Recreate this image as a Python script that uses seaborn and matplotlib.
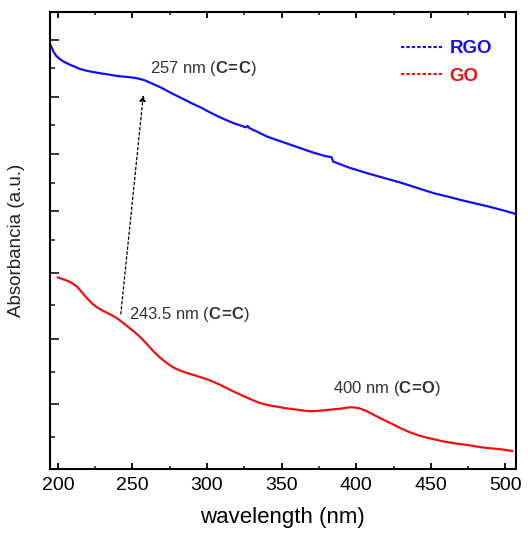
import numpy as np
import pandas as pd
import matplotlib
matplotlib.use('Agg')
import matplotlib.pyplot as plt
import seaborn as sns
from matplotlib.lines import Line2D
from matplotlib.ticker import FixedLocator, MultipleLocator

# datos (absorbancia en unidades arbitrarias)
rgo_nm = [194.5, 196, 197.2, 199, 201.7, 204, 206.2, 208.5, 211.5, 214, 217.3, 220, 222.9, 228.5,
          234, 239.7, 245.3, 250.9, 254, 257.6, 260, 263, 268.8, 276.6, 284.4, 290, 295.6, 301.2,
          306.8, 312.4, 318, 322.5, 326, 327.2, 328.5, 334, 340.4, 351.6, 362.8, 371, 379.5, 383.6,
          384.4, 395, 407.5, 418.7, 429.9, 441, 452.2, 461, 470.1, 480, 490, 500, 507]
rgo_abs = [4.257, 4.21, 4.17, 4.13, 4.095, 4.073, 4.057, 4.04, 4.022, 4.005, 3.99, 3.98, 3.972, 3.957,
           3.945, 3.93, 3.922, 3.913, 3.904, 3.89, 3.876, 3.855, 3.817, 3.755, 3.697, 3.655, 3.617, 3.572,
           3.53, 3.492, 3.457, 3.435, 3.416, 3.43, 3.408, 3.37, 3.323, 3.265, 3.207, 3.165, 3.128, 3.118,
           3.075, 3.015, 2.957, 2.91, 2.863, 2.81, 2.757, 2.725, 2.69, 2.655, 2.62, 2.58, 2.55]

go_nm = [199.9, 203, 206.2, 209.5, 212.9, 216, 219.6, 223, 226.3, 229.5, 233, 236.5, 239.7, 243,
         246.4, 251, 255.4, 260, 264.3, 268.8, 273.3, 277.5, 282.2, 286.5, 291.1, 295.5, 300.1,
         304.5, 309.1, 313.5, 318, 322.5, 327, 331.5, 336, 341.5, 347.1, 352.5, 358.3, 364, 369.5,
         375, 380.7, 385, 389.6, 393, 396.3, 399.5, 403, 407.5, 412, 416.5, 421, 425.5, 429.9,
         435.5, 441.1, 446.5, 452.2, 457.5, 463.4, 469, 474.6, 480, 485.8, 491.5, 497, 504.8]
go_abs = [1.917, 1.90, 1.883, 1.86, 1.823, 1.77, 1.707, 1.655, 1.617, 1.588, 1.563, 1.535, 1.507,
          1.47, 1.43, 1.375, 1.317, 1.245, 1.173, 1.11, 1.057, 1.015, 0.983, 0.96, 0.94, 0.918, 0.897,
          0.87, 0.84, 0.806, 0.773, 0.742, 0.713, 0.683, 0.657, 0.637, 0.623, 0.608, 0.597, 0.585,
          0.577, 0.582, 0.59, 0.597, 0.603, 0.612, 0.617, 0.614, 0.603, 0.575, 0.54, 0.505, 0.473,
          0.44, 0.407, 0.37, 0.34, 0.316, 0.297, 0.278, 0.263, 0.25, 0.24, 0.226, 0.213, 0.205,
          0.197, 0.18]

y_major = [0.65, 1.30, 1.96, 2.58, 3.15, 3.72, 4.29]
y_minor = [0.32, 0.97, 1.64, 2.29, 2.86, 3.44, 4.01]

df_rgo = pd.DataFrame({'nm': rgo_nm, 'abs': rgo_abs})
df_go = pd.DataFrame({'nm': go_nm, 'abs': go_abs})

sns.set_style('ticks')
plt.rcParams['font.family'] = ['Liberation Sans', 'DejaVu Sans']
plt.rcParams['mathtext.fontset'] = 'custom'
plt.rcParams['mathtext.bf'] = 'Liberation Sans:bold'
plt.rcParams['mathtext.rm'] = 'Liberation Sans'

fig = plt.figure(figsize=(5.28, 5.35), dpi=100)
ax = fig.add_axes([0.094, 0.1234, 0.883, 0.8542])

sns.lineplot(data=df_rgo, x='nm', y='abs', ax=ax, color='#1010f0', lw=1.6, sort=False)
sns.lineplot(data=df_go, x='nm', y='abs', ax=ax, color='#f01010', lw=1.6, sort=False)

ax.set_xlim(194.5, 507)
ax.set_ylim(0, 4.57)
ax.xaxis.set_major_locator(MultipleLocator(50))
ax.xaxis.set_minor_locator(MultipleLocator(25))
ax.yaxis.set_major_locator(FixedLocator(y_major))
ax.yaxis.set_minor_locator(FixedLocator(y_minor))
ax.set_yticklabels([])

for s in ax.spines.values():
    s.set_linewidth(1.5)
    s.set_color('black')
    s.set_visible(True)

ax.tick_params(axis='x', which='major', direction='in', length=4.5, width=1.3, top=True,
               labelsize=14, pad=6, colors='black')
ax.tick_params(axis='x', which='minor', direction='in', length=2.5, width=1.2, top=True)
ax.tick_params(axis='y', which='major', direction='in', length=6.5, width=1.3, right=False)
ax.tick_params(axis='y', which='minor', direction='in', length=3.5, width=1.2, right=False)

ax.set_xlabel('wavelength (nm)', fontsize=16, labelpad=9, color='black')
ax.set_ylabel('Absorbancia (a.u.)', fontsize=13.5, labelpad=14, color='#222222')

# anotaciones
ax.text(261.8, 4.0, r'257 nm ($\mathbf{C\!=\!C}$)', fontsize=12, color='#333333', ha='left', va='center')
ax.text(248, 1.54, r'243.5 nm ($\mathbf{C\!=\!C}$)', fontsize=12, color='#333333', ha='left', va='center')
ax.text(384.2, 0.807, r'400 nm ($\mathbf{C\!=\!O}$)', fontsize=12, color='#333333', ha='left', va='center')
ax.annotate('', xy=(257.3, 3.74), xytext=(242.2, 1.55),
            arrowprops=dict(arrowstyle='-|>', color='black', lw=0.9, linestyle=(0, (2, 2)),
                            mutation_scale=9, shrinkA=0, shrinkB=0))

handles = [Line2D([], [], color='#1010f0', lw=1.5, linestyle=(0, (1.6, 1))),
           Line2D([], [], color='#f01010', lw=1.5, linestyle=(0, (1.6, 1)))]
leg = ax.legend(handles, ['RGO', 'GO'], loc='upper right', bbox_to_anchor=(0.985, 0.975),
                frameon=False, handlelength=2.2, handletextpad=0.4, labelspacing=0.55,
                prop={'weight': 'bold', 'size': 13.5})
for t, c in zip(leg.get_texts(), ['#1010f0', '#f01010']):
    t.set_color(c)

plt.savefig('out.png', dpi=100)
